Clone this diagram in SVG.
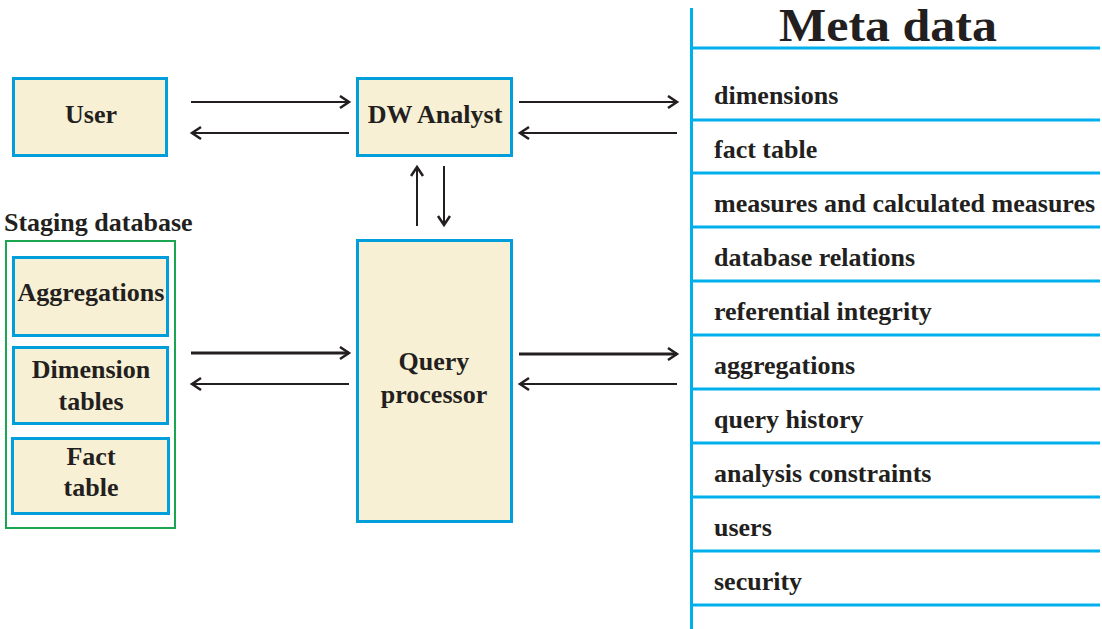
<svg xmlns="http://www.w3.org/2000/svg" width="1102" height="629" viewBox="0 0 1102 629">
  <style>
    .box { fill: #f8f0d4; stroke: #009fdc; stroke-width: 3; }
    .lbl { font-family: "Liberation Serif", "Times New Roman", serif; font-weight: bold; font-size: 26px; fill: #231f20; }
    .title { font-size: 46px; }
    .mid { text-anchor: middle; }
    .conn { stroke: #231f20; stroke-width: 2; fill: none; marker-end: url(#arrow); }
    .thick { stroke-width: 3; }
    .rule { stroke: #00b0ec; stroke-width: 3; }
  </style>
  <defs>
    <marker id="arrow" markerUnits="userSpaceOnUse" markerWidth="14" markerHeight="16" refX="11" refY="7" orient="auto">
      <path d="M2,1 L11,7 L2,13" fill="none" stroke="#231f20" stroke-width="2.5"/>
    </marker>
  </defs>
  <rect width="1102" height="629" fill="#ffffff"/>

  <!-- connectors -->
  <g id="connectors">
    <line class="conn" x1="191" y1="102" x2="349" y2="102"/>
    <line class="conn" x1="349" y1="133" x2="192" y2="133"/>
    <line class="conn" x1="519" y1="102" x2="677" y2="102"/>
    <line class="conn" x1="677" y1="133" x2="520" y2="133"/>
    <line class="conn" x1="417" y1="226" x2="417" y2="167"/>
    <line class="conn" x1="444" y1="166" x2="444" y2="225"/>
    <line class="conn thick" x1="191" y1="353" x2="349" y2="353"/>
    <line class="conn" x1="349" y1="384" x2="192" y2="384"/>
    <line class="conn thick" x1="519" y1="354" x2="677" y2="354"/>
    <line class="conn" x1="677" y1="384" x2="520" y2="384"/>
  </g>

  <g id="user">
    <rect class="box" x="13.5" y="78.5" width="153" height="77"/>
    <text class="lbl mid" x="91" y="123">User</text>
  </g>

  <g id="dw-analyst">
    <rect class="box" x="357.5" y="78.5" width="154" height="77"/>
    <text class="lbl mid" x="435" y="123">DW Analyst</text>
  </g>

  <g id="query-processor">
    <rect class="box" x="357.5" y="240.5" width="154" height="281"/>
    <text class="lbl mid" x="434" y="370">Query</text>
    <text class="lbl mid" x="434" y="403">processor</text>
  </g>

  <g id="staging-database">
    <text class="lbl" x="4" y="231">Staging database</text>
    <rect x="6" y="241" width="169" height="287" fill="none" stroke="#1aa550" stroke-width="2"/>
  </g>

  <g id="aggregations">
    <rect class="box" x="13.5" y="257.5" width="154" height="78"/>
    <text class="lbl mid" x="91" y="301">Aggregations</text>
  </g>

  <g id="dimension-tables">
    <rect class="box" x="13.5" y="347.5" width="154" height="76"/>
    <text class="lbl mid" x="91" y="378">Dimension</text>
    <text class="lbl mid" x="91" y="410">tables</text>
  </g>

  <g id="fact-table">
    <rect class="box" x="12.5" y="438.5" width="156" height="75"/>
    <text class="lbl mid" x="91" y="465">Fact</text>
    <text class="lbl mid" x="91" y="496">table</text>
  </g>

  <g id="meta-data">
    <line class="rule" x1="691.5" y1="8" x2="691.5" y2="629" stroke-width="4"/>
    <text class="lbl title mid" x="888" y="41" textLength="218" lengthAdjust="spacingAndGlyphs">Meta data</text>
    <line class="rule" x1="692" y1="48" x2="1100" y2="48"/>
    <line class="rule" x1="692" y1="120" x2="1100" y2="120"/>
    <line class="rule" x1="692" y1="173" x2="1100" y2="173"/>
    <line class="rule" x1="692" y1="227" x2="1100" y2="227"/>
    <line class="rule" x1="692" y1="281" x2="1100" y2="281"/>
    <line class="rule" x1="692" y1="335" x2="1100" y2="335"/>
    <line class="rule" x1="692" y1="389" x2="1100" y2="389"/>
    <line class="rule" x1="692" y1="443" x2="1100" y2="443"/>
    <line class="rule" x1="692" y1="497" x2="1100" y2="497"/>
    <line class="rule" x1="692" y1="551" x2="1100" y2="551"/>
    <line class="rule" x1="692" y1="605" x2="1100" y2="605"/>
    <text class="lbl" x="714" y="104">dimensions</text>
    <text class="lbl" x="714" y="158">fact table</text>
    <text class="lbl" x="714" y="212">measures and calculated measures</text>
    <text class="lbl" x="714" y="266">database relations</text>
    <text class="lbl" x="714" y="320">referential integrity</text>
    <text class="lbl" x="714" y="374">aggregations</text>
    <text class="lbl" x="714" y="428">query history</text>
    <text class="lbl" x="714" y="482">analysis constraints</text>
    <text class="lbl" x="714" y="536">users</text>
    <text class="lbl" x="714" y="590">security</text>
  </g>
</svg>
